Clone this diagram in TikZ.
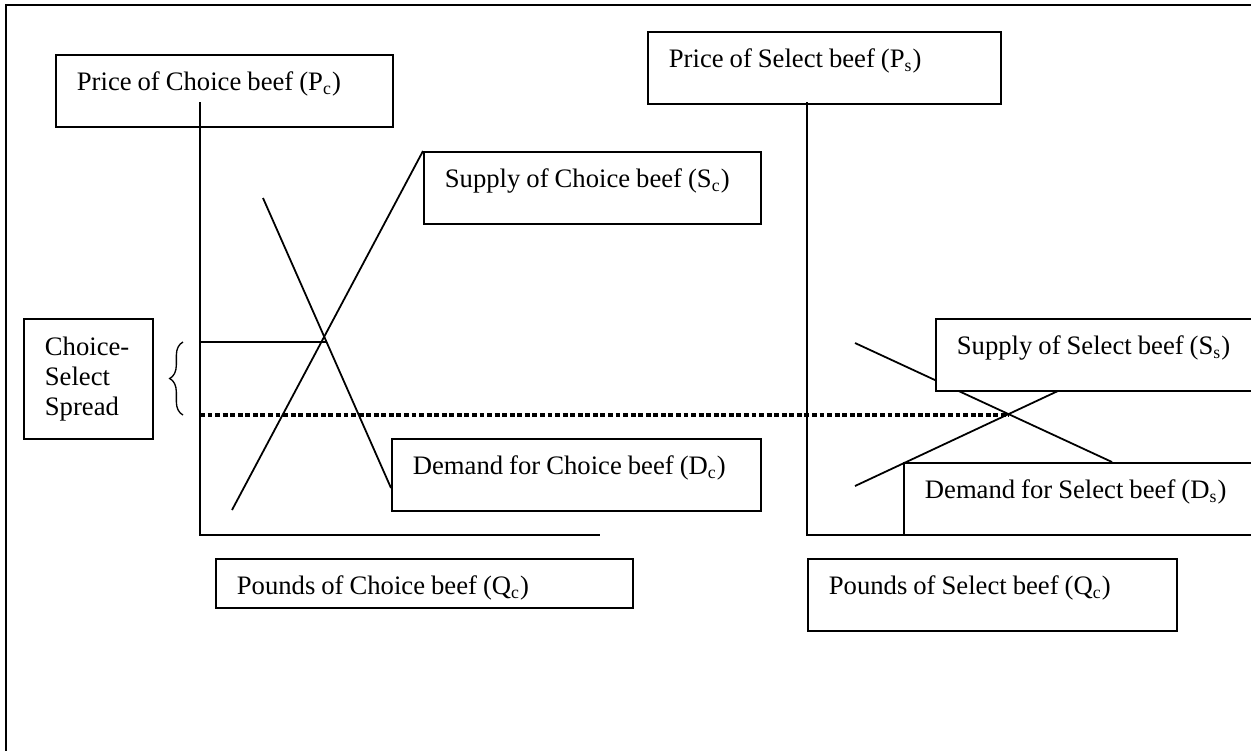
\documentclass[tikz,border=0pt]{standalone}
\usepackage{fontspec}
\setmainfont[WordSpace=0.9]{Liberation Serif}
\usetikzlibrary{decorations.pathreplacing}
\newdimen\mkpx
\mkpx=0.45pt
\tikzset{
  mkbox/.style={draw, fill=white, line width=0.8pt, anchor=north west,
                inner xsep=21\mkpx, inner ysep=0pt, align=left,
                text height=36\mkpx, text depth=36\mkpx,
                font=\fontsize{12}{13.5}\selectfont},
  mkcurve/.style={draw, line width=0.8pt},
  mkaxis/.style={draw, line width=0.8pt},
  mkspread/.style={draw, line width=1.5pt, dash pattern=on 2.2pt off 1.2pt},
  mkbrace/.style={draw, line width=0.6pt, decorate,
                  decoration={brace, amplitude=6pt}}
}
\newcommand{\boxline}[2]{\makebox[\dimexpr#1\mkpx-42\mkpx\relax][l]{#2}}

\begin{document}
\begin{tikzpicture}[x=0.45pt, y=-0.45pt]
  \useasboundingbox (0,0) rectangle (1251,750);
  \clip (0,0) rectangle (1251,750);
  % the frame, cut by the page on the right and at the bottom
  \draw[line width=0.8pt] (6,5) rectangle (1270,770);
  % curve ends, in pixels of the page
  \coordinate (supC-lo) at (232,510);
  \coordinate (supC-hi) at (423,151);
  \coordinate (dmdC-hi) at (263,198);
  \coordinate (dmdC-lo) at (391,488);
  \coordinate (supS-lo) at (855,486);
  \coordinate (supS-hi) at (1060,390);
  \coordinate (dmdS-hi) at (855,343);
  \coordinate (dmdS-lo) at (1112,462);
  \foreach \a/\b in {supC-lo/supC-hi, dmdC-hi/dmdC-lo,
                     supS-lo/supS-hi, dmdS-hi/dmdS-lo}
    { \draw[mkcurve] (\a) -- (\b); }
  % boxes: name/left/top/width/text
  \foreach \n/\x/\y/\w/\t in {%
      pricC/55/54/337/{Price of Choice beef (P\textsubscript{c})},
      pricS/647/31/353/{Price of Select beef (P\textsubscript{s})},
      supC/423/151/337/{Supply of Choice beef (S\textsubscript{c})},
      dmdC/391/438/369/{Demand for Choice beef (D\textsubscript{c})},
      supS/935/318/340/{Supply of Select beef (S\textsubscript{s})},
      dmdS/903/462/372/{Demand for Select beef (D\textsubscript{s})},
      qtyS/807/558/369/{Pounds of Select beef (Q\textsubscript{c})}}
    { \node[mkbox] (\n) at (\x,\y) {\boxline{\w}{\t}}; }
  \node[mkbox, text depth=13\mkpx] (qtyC)
    at (215,558) {\boxline{417}{Pounds of Choice beef (Q\textsubscript{c})}};
  \node[mkbox, text width=(129-42)*\mkpx, text height=37\mkpx,
        text depth=83\mkpx] (spread) at (23,318) {Choice-\\Select\\Spread};
  % the two axes
  \coordinate (topC) at (200,102);
  \coordinate (orgC) at (200,535);
  \coordinate (endC) at (600,535);
  \coordinate (topS) at (807,102);
  \coordinate (orgS) at (807,535);
  \coordinate (endS) at (1160,535);
  \draw[mkaxis] (topC) -- (orgC) -- (endC);
  \draw[mkaxis] (topS) -- (orgS) -- (endS);
  % the two prices and the spread between them
  \coordinate (eqC) at (326,342);
  \coordinate (eqS) at (1009,415);
  \draw[mkaxis] (orgC |- eqC) -- (eqC);
  \draw[mkspread] (orgC |- eqS) -- (eqS);
  \draw[mkbrace] (183,415) -- (183,342);
\end{tikzpicture}
\end{document}
